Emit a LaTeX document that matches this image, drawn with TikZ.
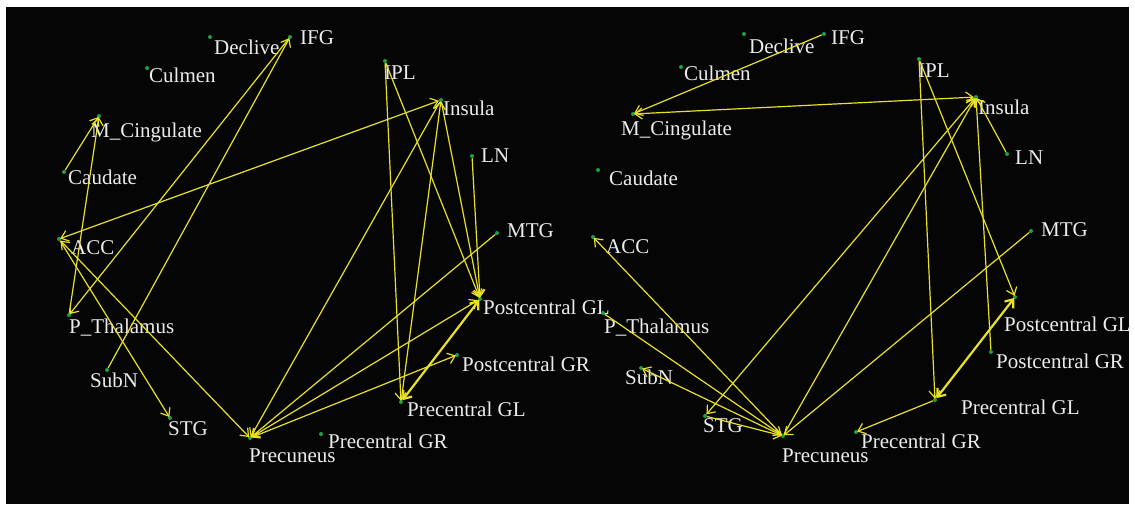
\documentclass[tikz,border=0pt]{standalone}
\usepackage{fontspec}
\setmainfont{Liberation Serif}
\usepackage{tikz}
\usetikzlibrary{arrows.meta}
\definecolor{BgBlack}{RGB}{5,5,5}
\definecolor{DotGreen}{RGB}{30,160,70}
\definecolor{LinkYellow}{RGB}{232,225,40}
\definecolor{LabGray}{RGB}{236,236,236}
\tikzset{
    dot/.style={circle,fill=DotGreen,inner sep=0pt,minimum size=4pt},
    lab/.style={anchor=base west,inner sep=0pt,text=LabGray,font=\fontsize{21}{24}\selectfont},
    link/.style={draw=LinkYellow,line width=1.2pt,-{Straight Barb[length=7pt,width=11pt]},shorten >=-1pt},
    both/.style={link,{Straight Barb[length=7pt,width=11pt]}-{Straight Barb[length=7pt,width=11pt]}},
    heavy/.style={line width=2.2pt}
}

\begin{document}
\begin{tikzpicture}[x=1pt,y=-1pt]
        \newcommand\brainreg[4]{\node[dot] (#1) at (#2) {}; \node[lab] (#1-t) at (#3) {#4};}

        \useasboundingbox (0,0) rectangle (1135,506);
        \fill[white] (0,0) rectangle (1135,506);
        \fill[BgBlack] (6,7) rectangle (1129,504);

        % left network
        \brainreg{LDec}{210,37}{214,54}{Declive}
        \brainreg{LIFG}{290,37}{300,44}{IFG}
        \brainreg{LCul}{147,68}{149,82}{Culmen}
        \brainreg{LMCi}{99,116}{91,137}{M\_Cingulate}
        \brainreg{LCau}{64,172}{68,184}{Caudate}
        \brainreg{LACC}{59,239}{71,254}{ACC}
        \brainreg{LPTh}{69,315}{69,333}{P\_Thalamus}
        \brainreg{LSub}{107,370}{90,387}{SubN}
        \brainreg{LSTG}{170,418}{168,435}{STG}
        \brainreg{LPcu}{250,438}{249,462}{Precuneus}
        \brainreg{LPrR}{321,434}{328,448}{Precentral GR}
        \brainreg{LIPL}{385,61}{384,79}{IPL}
        \brainreg{LIns}{441,100}{443,115}{Insula}
        \brainreg{LLN}{472,156}{481,162}{LN}
        \brainreg{LMTG}{497,233}{507,237}{MTG}
        \brainreg{LPoL}{480,299}{483,314}{Postcentral GL}
        \brainreg{LPoR}{457,355}{462,371}{Postcentral GR}
        \brainreg{LPrL}{401,402}{407,416}{Precentral GL}

        \draw[link] (LCau) -- (LMCi);
        \draw[link] (LPTh) -- (LMCi);
        \draw[link] (LIFG) -- (LPTh);
        \draw[link] (LSub) -- (LIFG);
        \draw[both] (LIns) -- (LACC);
        \draw[link] (LACC) -- (LSTG);
        \draw[both] (LACC) -- (LPcu);
        \draw[link] (LIns) -- (LPcu);
        \draw[link] (LMTG) -- (LPcu);
        \draw[both] (LPoL) -- (LPcu);
        \draw[link] (LPcu) -- (LPoR);
        \draw[link] (LIPL) -- (LPrL);
        \draw[link] (LIPL) -- (LPoL);
        \draw[link] (LIns) -- (LPoL);
        \draw[link] (LLN) -- (LPoL);
        \draw[link] (LPrL) -- (LIns);
        \draw[both,heavy] (LPrL) -- (LPoL);

        % right network
        \brainreg{RDec}{744,34}{749,53}{Declive}
        \brainreg{RIFG}{824,34}{831,44}{IFG}
        \brainreg{RCul}{681,67}{684,80}{Culmen}
        \brainreg{RMCi}{633,114}{621,135}{M\_Cingulate}
        \brainreg{RCau}{598,170}{609,185}{Caudate}
        \brainreg{RACC}{593,237}{606,253}{ACC}
        \brainreg{RPTh}{603,313}{604,333}{P\_Thalamus}
        \brainreg{RSub}{641,368}{625,384}{SubN}
        \brainreg{RSTG}{705,416}{703,432}{STG}
        \brainreg{RPcu}{783,436}{782,462}{Precuneus}
        \brainreg{RPrR}{856,432}{861,448}{Precentral GR}
        \brainreg{RIPL}{919,59}{918,77}{IPL}
        \brainreg{RIns}{976,97}{978,114}{Insula}
        \brainreg{RLN}{1007,154}{1015,164}{LN}
        \brainreg{RMTG}{1031,231}{1041,236}{MTG}
        \brainreg{RPoL}{1015,297}{1004,331}{Postcentral GL}
        \brainreg{RPoR}{991,352}{996,368}{Postcentral GR}
        \brainreg{RPrL}{935,400}{961,414}{Precentral GL}

        \draw[link] (RIFG) -- (RMCi);
        \draw[both] (RIns) -- (RMCi);
        \draw[link] (RLN) -- (RIns);
        \draw[both] (RSTG) -- (RIns);
        \draw[link] (RPcu) -- (RIns);
        \draw[link] (RPoR) -- (RIns);
        \draw[link] (RIPL) -- (RPrL);
        \draw[link] (RIPL) -- (RPoL);
        \draw[both,heavy] (RPrL) -- (RPoL);
        \draw[link] (RPrL) -- (RPrR);
        \draw[link] (RMTG) -- (RPcu);
        \draw[link] (RPcu) -- (RACC);
        \draw[link] (RPTh) -- (RPcu);
        \draw[link] (RPcu) -- (RSub);
        \draw[link] (RSTG) -- (RPcu);
    \end{tikzpicture}
\end{document}
